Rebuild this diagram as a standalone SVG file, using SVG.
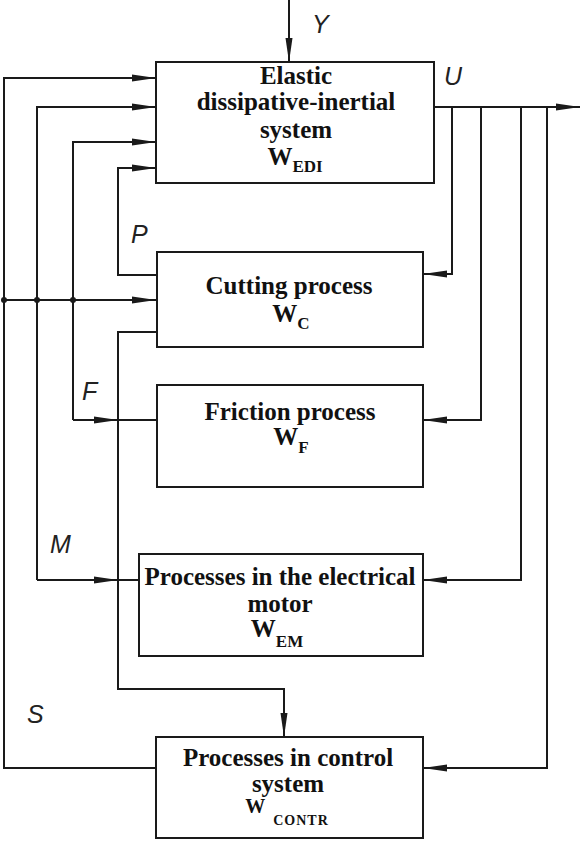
<svg xmlns="http://www.w3.org/2000/svg" width="583" height="842" viewBox="0 0 583 842">
<style>
.box{fill:#fff;stroke:#1a1a1a;stroke-width:2}
.ln{fill:none;stroke:#1a1a1a;stroke-width:2}
.t{font-family:"Liberation Serif","Times New Roman",serif;font-weight:bold;font-size:25px;fill:#111;text-anchor:middle}
.sub{font-size:17px}
.lbl{font-family:"Liberation Sans",Arial,sans-serif;font-style:italic;font-size:25px;fill:#222}
</style>
<defs>
<marker id="ah" markerUnits="userSpaceOnUse" markerWidth="24" markerHeight="8" refX="24" refY="4" orient="auto">
<path d="M0,0.5 L24,4 L0,7.5 z" fill="#1a1a1a"/>
</marker>
</defs>
<g id="connectors">
<path class="ln" d="M289,0 V62" marker-end="url(#ah)"/>
<path class="ln" d="M156,768 H4 V78 H156" marker-end="url(#ah)"/>
<path class="ln" d="M37,580 V107 H156" marker-end="url(#ah)"/>
<path class="ln" d="M37,580 H118" marker-end="url(#ah)"/>
<path class="ln" d="M118,580 H139"/>
<path class="ln" d="M73,420 V142 H156" marker-end="url(#ah)"/>
<path class="ln" d="M73,420 H118" marker-end="url(#ah)"/>
<path class="ln" d="M118,420 H157"/>
<path class="ln" d="M157,275 H118 V168 H156" marker-end="url(#ah)"/>
<path class="ln" d="M4,300 H156" marker-end="url(#ah)"/>
<path class="ln" d="M157,332 H118 V689 H284 V737" marker-end="url(#ah)"/>
<path class="ln" d="M434,107 H580" marker-end="url(#ah)"/>
<path class="ln" d="M452,107 V274 H423" marker-end="url(#ah)"/>
<path class="ln" d="M481,107 V420 H423" marker-end="url(#ah)"/>
<path class="ln" d="M521,107 V580 H423" marker-end="url(#ah)"/>
<path class="ln" d="M547,107 V768 H423" marker-end="url(#ah)"/>
<circle cx="4" cy="300" r="3" fill="#1a1a1a"/>
<circle cx="37" cy="300" r="3" fill="#1a1a1a"/>
<circle cx="73" cy="300" r="3" fill="#1a1a1a"/>
<text class="lbl" x="312" y="33">Y</text>
<text class="lbl" x="444" y="85">U</text>
<text class="lbl" x="131" y="243">P</text>
<text class="lbl" x="82" y="400">F</text>
<text class="lbl" x="50" y="553">M</text>
<text class="lbl" x="27" y="723">S</text>
</g>
<g id="edi">
<rect class="box" x="156" y="62" width="278" height="121"/>
<text class="t" x="296" y="84">Elastic</text>
<text class="t" x="296" y="110">dissipative-inertial</text>
<text class="t" x="296" y="138">system</text>
<text class="t" x="295" y="165">W<tspan class="sub" dy="7">EDI</tspan></text>
</g>
<g id="cutting">
<rect class="box" x="157" y="252" width="266" height="95"/>
<text class="t" x="289" y="294">Cutting process</text>
<text class="t" x="291" y="322">W<tspan class="sub" dy="7">C</tspan></text>
</g>
<g id="friction">
<rect class="box" x="157" y="385" width="266" height="102"/>
<text class="t" x="290" y="420">Friction process</text>
<text class="t" x="291" y="445">W<tspan class="sub" dy="8">F</tspan></text>
</g>
<g id="motor">
<rect class="box" x="139" y="554" width="284" height="102"/>
<text class="t" x="280" y="585">Processes in the electrical</text>
<text class="t" x="280" y="612">motor</text>
<text class="t" x="277" y="637">W<tspan class="sub" dy="10">EM</tspan></text>
</g>
<g id="control">
<rect class="box" x="156" y="737" width="267" height="101"/>
<text class="t" x="288" y="766">Processes in control</text>
<text class="t" x="288" y="792">system</text>
<text class="t" x="287" y="813" style="font-size:20px">W<tspan class="sub" dx="8" dy="12" style="font-size:14px;letter-spacing:1px">CONTR</tspan></text>
</g>
</svg>
